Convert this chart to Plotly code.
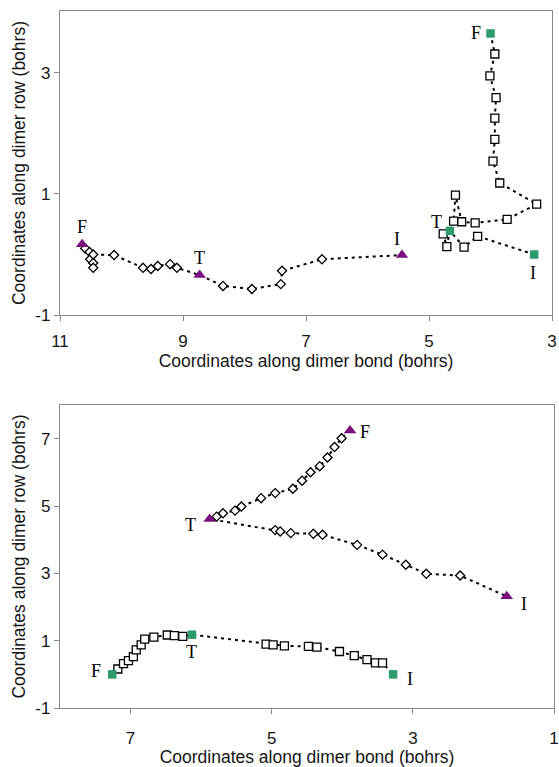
import plotly.graph_objects as go

# ---------------- data ----------------
# Top panel: diamond path (purple triangles at F, T, I)
top_d_x = [10.64, 10.59, 10.52, 10.51, 10.46, 10.46, 10.46, 10.12, 9.65, 9.52,
           9.41, 9.21, 9.10, 8.73, 8.35, 7.88, 7.41, 7.39, 6.74, 5.44]
top_d_y = [0.17, 0.10, 0.04, -0.08, -0.14, -0.22, 0.00, -0.01, -0.22, -0.24,
           -0.19, -0.16, -0.22, -0.34, -0.52, -0.57, -0.49, -0.27, -0.08, -0.01]
top_d_special = [0, 13, 19]
top_d_labels = ["F", "T", "I"]

# Top panel: square path (green squares at F, T, I)
top_s_x = [4.00, 3.93, 4.01, 3.91, 3.93, 3.93, 3.96, 3.85, 3.25, 3.73,
           4.25, 4.47, 4.57, 4.60, 4.77, 4.71, 4.66, 4.43, 4.21, 3.29]
top_s_y = [3.65, 3.31, 2.95, 2.59, 2.25, 1.90, 1.54, 1.18, 0.83, 0.58,
           0.52, 0.54, 0.98, 0.55, 0.34, 0.13, 0.39, 0.12, 0.30, 0.00]
top_s_special = [0, 16, 19]
top_s_labels = ["F", "T", "I"]

# Bottom panel: diamond path (purple triangles at F, T, I)
bot_d_x = [3.89, 4.01, 4.11, 4.21, 4.32, 4.45, 4.57, 4.70, 4.95, 5.15,
           5.43, 5.52, 5.69, 5.78, 5.88, 4.95, 4.88, 4.73, 4.41, 4.28,
           3.79, 3.43, 3.10, 2.81, 2.33, 1.67]
bot_d_y = [7.25, 7.02, 6.76, 6.45, 6.19, 6.01, 5.76, 5.52, 5.39, 5.24,
           4.99, 4.87, 4.79, 4.69, 4.62, 4.29, 4.25, 4.20, 4.18, 4.15,
           3.85, 3.56, 3.26, 2.99, 2.94, 2.32]
bot_d_special = [0, 14, 25]
bot_d_labels = ["F", "T", "I"]

# Bottom panel: square path (green squares at F, T, I)
bot_s_x = [7.26, 7.18, 7.10, 7.03, 6.96, 6.92, 6.85, 6.80, 6.67, 6.48,
           6.38, 6.26, 6.13, 5.08, 4.98, 4.82, 4.48, 4.36, 4.04, 3.83,
           3.65, 3.53, 3.43, 3.28]
bot_s_y = [0.00, 0.16, 0.32, 0.41, 0.53, 0.73, 0.88, 1.05, 1.11, 1.17,
           1.15, 1.13, 1.18, 0.90, 0.88, 0.85, 0.83, 0.81, 0.68, 0.56,
           0.44, 0.34, 0.34, 0.00]
bot_s_special = [0, 12, 23]
bot_s_labels = ["F", "T", "I"]

top_x_ticks = [11, 9, 7, 5, 3]
top_y_ticks = [-1, 1, 3]
top_y_ticktext = ["-1", "1", "3"]
bot_x_ticks = [7, 5, 3, 1]
bot_y_ticks = [-1, 1, 3, 5, 7]
bot_y_ticktext = ["-1", "1", "3", "5", "7"]

x_title = "Coordinates along dimer bond (bohrs)"
y_title = "Coordinates along dimer row (bohrs)"

# ---------------- styling ----------------
PURPLE = "#7a0f7c"
GREEN = "#2f9a6b"
FRAME = "#8a8a8a"
SANS = "Liberation Sans, Arial, sans-serif"
SERIF = "Liberation Serif, Times New Roman, serif"
TXT = "#151515"

fig = go.Figure()
annotations = []


def add_path(xs, ys, special, labels, offsets, xa, ya, open_symbol, open_size,
             sp_symbol, sp_color, sp_size):
    fig.add_trace(go.Scatter(x=xs, y=ys, mode="lines", xaxis=xa, yaxis=ya,
                             line=dict(color="black", width=2, dash="3px,4px"),
                             hoverinfo="skip", showlegend=False))
    others = [i for i in range(len(xs)) if i not in special]
    fig.add_trace(go.Scatter(x=[xs[i] for i in others], y=[ys[i] for i in others],
                             mode="markers", xaxis=xa, yaxis=ya, showlegend=False,
                             marker=dict(symbol=open_symbol, size=open_size, color="white",
                                         line=dict(color="black", width=1.3))))
    fig.add_trace(go.Scatter(x=[xs[i] for i in special], y=[ys[i] for i in special],
                             mode="markers", xaxis=xa, yaxis=ya, showlegend=False,
                             marker=dict(symbol=sp_symbol, size=sp_size, color=sp_color,
                                         line=dict(width=0))))
    xref = "x" if xa == "x" else "x2"
    yref = "y" if ya == "y" else "y2"
    for i, t, (dx, dy) in zip(special, labels, offsets):
        annotations.append(dict(x=xs[i], y=ys[i], xref=xref, yref=yref, text=t,
                                showarrow=False, xshift=dx, yshift=dy,
                                font=dict(family=SERIF, size=18, color="black")))


add_path(top_d_x, top_d_y, top_d_special, top_d_labels,
         [(0, 17), (0, 17), (-5, 16)], "x", "y",
         "diamond", 7, "triangle-up", PURPLE, 11)
add_path(top_s_x, top_s_y, top_s_special, top_s_labels,
         [(-15, 0), (-13, 9), (-1, -19)], "x", "y",
         "square", 8, "square", GREEN, 8.5)
add_path(bot_d_x, bot_d_y, bot_d_special, bot_d_labels,
         [(15, -1), (-19, -6), (17, -8)], "x2", "y2",
         "diamond", 7, "triangle-up", PURPLE, 11)
add_path(bot_s_x, bot_s_y, bot_s_special, bot_s_labels,
         [(-16, 3), (0, -17), (17, -5)], "x2", "y2",
         "square", 8, "square", GREEN, 8.5)

axis_common = dict(showline=True, mirror=True, linecolor=FRAME, linewidth=1.3,
                   ticks="outside", ticklen=5, tickcolor=FRAME, tickwidth=1,
                   showgrid=False, zeroline=False,
                   tickfont=dict(family=SANS, size=17, color=TXT))
title_font = dict(family=SANS, size=17.5, color=TXT)

fig.update_layout(
    width=559, height=767,
    margin=dict(l=60, r=5, t=11, b=59, autoexpand=False),
    paper_bgcolor="white", plot_bgcolor="white",
    showlegend=False,
    annotations=annotations,
    xaxis=dict(domain=[0, 0.996], anchor="y", range=[11, 3], tickvals=top_x_ticks,
               ticklabelstandoff=5,
               title=dict(text=x_title, font=title_font, standoff=4),
               **axis_common),
    yaxis=dict(domain=[0.5638, 1], anchor="x", range=[-1, 4.02], tickvals=top_y_ticks,
               ticktext=top_y_ticktext,
               title=dict(text=y_title, font=title_font, standoff=5),
               **axis_common),
    xaxis2=dict(domain=[0, 1], anchor="y2", range=[8, 1], tickvals=bot_x_ticks,
                ticklabelstandoff=9,
                title=dict(text=x_title, font=title_font, standoff=1),
                **axis_common),
    yaxis2=dict(domain=[0, 0.4347], anchor="x2", range=[-1, 8.01], tickvals=bot_y_ticks,
                ticktext=bot_y_ticktext,
                title=dict(text=y_title, font=title_font, standoff=5),
                **axis_common),
)

fig.write_html("out.html")
